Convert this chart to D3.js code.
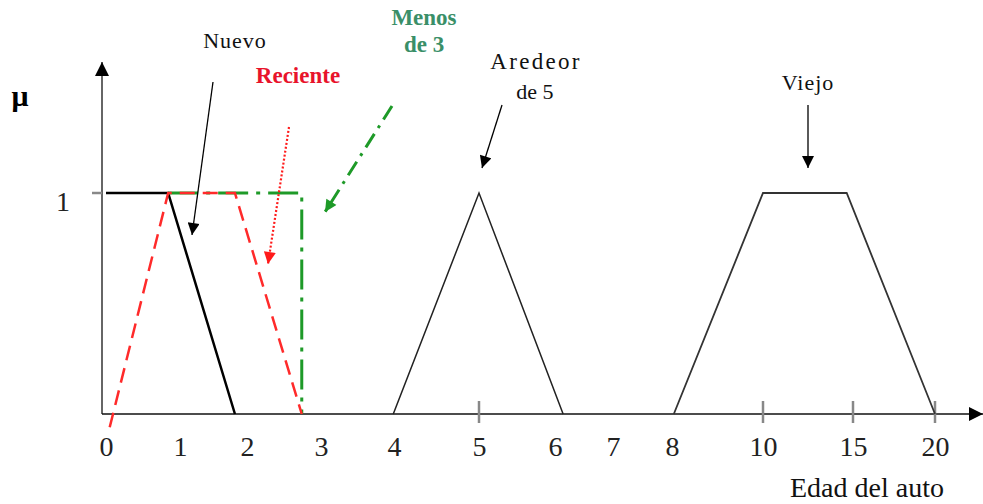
<!DOCTYPE html>
<html>
<head>
<meta charset="utf-8">
<script src="https://cdn.jsdelivr.net/npm/d3@7"></script>
<style>
  html, body { margin: 0; padding: 0; background: #fff; }
  svg { display: block; }
</style>
</head>
<body>
<svg id="chart" width="983" height="504"></svg>
<script>
// Edad del auto (años) shown on the horizontal axis
const ageTicks = [0, 1, 2, 3, 4, 5, 6, 7, 8, 10, 15, 20];
const markedTicks = [5, 10, 15, 20];
const muTicks = [1];

// Membership functions: [edad, μ]
const nuevo = [[0, 1], [0.84, 1], [1.82, 0]];
const reciente = [[0.05, -0.06], [0.84, 1], [1.82, 1], [2.74, 0]];
const menosDe3 = [[0.84, 1], [2.74, 1], [2.74, 0]];
const alrededor5 = [[3.99, 0], [5, 1], [6.14, 0]];
const viejo = [[8.04, 0], [10, 1], [14.65, 1], [20, 0]];

const SERIF = "'Liberation Serif', 'DejaVu Serif', 'Times New Roman', serif";

// Layout
const svg = d3.select("#chart");
const axisX0 = 102, axisY0 = 414;
// the age axis is drawn piecewise: each labelled age gets its own slot
const x = d3.scaleLinear()
  .domain(ageTicks)
  .range([106, 180, 247, 321, 394, 479, 555, 613, 672, 763, 853, 935]);
const y = d3.scaleLinear().domain([0, 1]).range([axisY0, 193]);

const defs = svg.append("defs");
function marker(id, color, w, h) {
  defs.append("marker")
    .attr("id", id)
    .attr("viewBox", "0 0 10 10")
    .attr("refX", 10).attr("refY", 5)
    .attr("markerUnits", "userSpaceOnUse")
    .attr("markerWidth", w).attr("markerHeight", h)
    .attr("orient", "auto")
    .append("path").attr("d", "M0,0 L10,5 L0,10 Z").attr("fill", color);
}
marker("ah-black", "#000", 13, 12);
marker("ah-red", "#ff1a1a", 13, 12);
marker("ah-green", "#1e9a28", 13, 12);
marker("ah-axis", "#000", 14, 14);

// Axes
svg.append("line")
  .attr("x1", axisX0).attr("y1", axisY0)
  .attr("x2", axisX0).attr("y2", 62)
  .attr("stroke", "#666").attr("stroke-width", 2)
  .attr("marker-end", "url(#ah-axis)");
svg.append("line")
  .attr("x1", axisX0).attr("y1", axisY0)
  .attr("x2", 983).attr("y2", axisY0)
  .attr("stroke", "#111").attr("stroke-width", 1.6)
  .attr("marker-end", "url(#ah-axis)");

// Tick labels along the age axis
const xAxis = d3.axisBottom(x).tickValues(ageTicks).tickSize(0).tickPadding(0)
  .tickFormat(d3.format("d"));
const gx = svg.append("g").attr("transform", `translate(0,${axisY0})`).call(xAxis)
  .attr("font-family", SERIF).attr("font-size", 28);
gx.select(".domain").remove();
gx.selectAll("text")
  .attr("dy", null).attr("y", 42)
  .attr("font-family", SERIF).attr("font-size", 28).attr("fill", "#222");

// Short tick marks at the wider age steps
svg.append("g").selectAll("line").data(markedTicks).join("line")
  .attr("x1", d => x(d)).attr("x2", d => x(d))
  .attr("y1", axisY0 - 13).attr("y2", axisY0 + 9)
  .attr("stroke", "#888").attr("stroke-width", 2.5);

// μ axis tick and label
svg.append("g").selectAll("line").data(muTicks).join("line")
  .attr("x1", 92).attr("x2", axisX0)
  .attr("y1", d => y(d)).attr("y2", d => y(d))
  .attr("stroke", "#888").attr("stroke-width", 2.5);
svg.append("g").selectAll("text").data(muTicks).join("text")
  .attr("x", 63).attr("y", d => y(d) + 18)
  .attr("text-anchor", "middle").attr("font-family", SERIF)
  .attr("font-size", 28).attr("fill", "#222")
  .text(d => d);
svg.append("text").attr("x", 20).attr("y", 106)
  .attr("text-anchor", "middle").attr("font-family", SERIF)
  .attr("font-size", 30).attr("font-weight", "bold")
  .text("μ");

// Membership curves
const line = d3.line().x(d => x(d[0])).y(d => y(d[1]));
svg.append("path").datum(alrededor5).attr("d", line)
  .attr("fill", "none").attr("stroke", "#222").attr("stroke-width", 1.5);
svg.append("path").datum(viejo).attr("d", line)
  .attr("fill", "none").attr("stroke", "#333").attr("stroke-width", 1.8);
svg.append("path").datum(nuevo).attr("d", line)
  .attr("fill", "none").attr("stroke", "#000").attr("stroke-width", 2.5);
svg.append("path").datum(menosDe3).attr("d", line)
  .attr("fill", "none").attr("stroke", "#1e9a28").attr("stroke-width", 3)
  .attr("stroke-dasharray", "30 8 4 8");
svg.append("path").datum(reciente).attr("d", line)
  .attr("fill", "none").attr("stroke", "#ff2a2a").attr("stroke-width", 2.5)
  .attr("stroke-dasharray", "15 8");

// Callout arrows
function arrow(x1, y1, x2, y2, color, width, dash, head) {
  svg.append("line")
    .attr("x1", x1).attr("y1", y1).attr("x2", x2).attr("y2", y2)
    .attr("stroke", color).attr("stroke-width", width)
    .attr("stroke-dasharray", dash)
    .attr("marker-end", `url(#${head})`);
}
arrow(213, 82, 192, 235, "#000", 1.3, null, "ah-black");
arrow(289, 127, 268, 264, "#ff1a1a", 2.2, "2 2", "ah-red");
arrow(392, 106, 325, 212, "#1e9a28", 3, "16 7 3 7", "ah-green");
arrow(502, 105, 482, 168, "#000", 1.3, null, "ah-black");
arrow(808, 105, 808, 168, "#000", 1.3, null, "ah-black");

// Labels
function label(tx, ty, str, opts) {
  return svg.append("text").attr("x", tx).attr("y", ty)
    .attr("text-anchor", "middle")
    .attr("font-family", SERIF)
    .attr("font-size", opts.size || 22)
    .attr("fill", opts.color || "#111")
    .attr("font-weight", opts.bold ? "bold" : null)
    .attr("letter-spacing", opts.ls || null)
    .text(str);
}
label(235, 48, "Nuevo", {size: 22, ls: 1});
label(298, 83, "Reciente", {size: 23, bold: true, color: "#e8132b"});
label(424, 25, "Menos", {size: 23, bold: true, color: "#3a8f68"});
label(424, 52, "de 3", {size: 23, bold: true, color: "#3a8f68"});
label(536, 69, "Aredeor", {size: 23, ls: 2.3});
label(535, 99, "de 5", {size: 22});
label(808, 90, "Viejo", {size: 22, ls: 1});
label(867, 497, "Edad del auto", {size: 28});
</script>
</body>
</html>
